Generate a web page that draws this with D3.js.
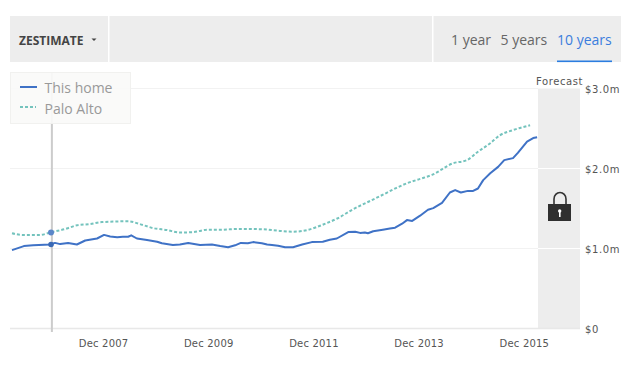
<!DOCTYPE html>
<html><head><meta charset="utf-8">
<script src="https://cdnjs.cloudflare.com/ajax/libs/d3/7.8.5/d3.min.js"></script>
<style>html,body{margin:0;padding:0;background:#fff;overflow:hidden}svg{display:block}</style>
</head><body><svg id="c" width="640" height="375"></svg>
<script>
// Months counted from March 2006; values in $ millions
const homeMonths=[0,2.7,4.8,8.7,9.8,11,12.8,14.8,16.7,19.4,21,22.4,24,25.3,26.5,27.2,28.5,30.8,33.1,34.2,36.7,38.3,40.2,42.9,45.6,47.5,49.3,50.9,52.2,53.8,55,57,58.2,59.3,60.7,62.3,64.1,66.2,68.4,70.9,72.5,74.1,76.7,78.3,79.4,80.5,81.2,82.4,84.6,86.2,87.4,89,90.1,91.3,93.1,94.9,96.1,98.1,99.9,101.1,102.4,104,105.2,106.3,107.5,109.1,110.9,112.3,114.3,115.4,117.5,118.9,119.8];
const homeValues=[0.98,1.03,1.04,1.05,1.07,1.055,1.07,1.05,1.10,1.125,1.17,1.15,1.14,1.147,1.147,1.165,1.125,1.105,1.085,1.065,1.045,1.05,1.07,1.045,1.05,1.03,1.015,1.04,1.07,1.065,1.08,1.065,1.05,1.045,1.035,1.015,1.015,1.05,1.08,1.085,1.11,1.125,1.205,1.21,1.195,1.2,1.19,1.215,1.235,1.25,1.26,1.31,1.355,1.345,1.41,1.485,1.505,1.57,1.70,1.73,1.70,1.72,1.72,1.75,1.855,1.94,2.02,2.105,2.13,2.195,2.335,2.38,2.39];
const areaMonths=[0,2.5,6.4,8.7,12.5,14.8,17.8,20.5,26.5,29.2,32.2,35.4,38.3,41.3,44.7,47.5,52,57.3,61.1,64.1,67.3,71,74.2,77.8,82.1,84.9,87.6,90.3,93.1,95.8,100.6,103.8,106.3,109.1,111.3,114.3,118.2];
const areaValues=[1.19,1.17,1.17,1.20,1.25,1.29,1.305,1.33,1.34,1.305,1.255,1.23,1.20,1.205,1.235,1.235,1.245,1.24,1.22,1.21,1.23,1.30,1.375,1.49,1.605,1.68,1.755,1.82,1.87,1.92,2.065,2.105,2.21,2.315,2.415,2.48,2.54];
const tickMonths=[21,45,69,93,117];
const tickLabels=["Dec 2007","Dec 2009","Dec 2011","Dec 2013","Dec 2015"];
const yTicks=[0,1,2,3];
const yLabels=["$0","$1.0m","$2.0m","$3.0m"];
const seriesNames=["This home","Palo Alto"];
const rangeNames=["1 year","5 years","10 years"];
const hoverLineMonth=9.1, hoverMonth=8.9, hoverHome=1.05, hoverArea=1.20;

const svg=d3.select("#c");
const x=d3.scaleLinear().domain([0,120]).range([12,538]);
const y=d3.scaleLinear().domain([0,3]).range([328.5,88.5]);
const OS="'Open Sans',sans-serif", DJ="'DejaVu Sans',sans-serif";
const BLUE="#3f72c6", TEAL="#74c3bd";

// header
svg.append("rect").attr("x",10).attr("y",16).attr("width",611).attr("height",46).attr("fill","#ededed");
[108,432].forEach(p=>svg.append("rect").attr("x",p).attr("y",16).attr("width",1.5).attr("height",46).attr("fill","#fff"));
svg.append("text").attr("x",19).attr("y",45).attr("font-family",OS).attr("font-weight",700).attr("font-size",12).attr("fill","#444").text("ZESTIMATE");
svg.append("path").attr("d","M91.5 38.5h5l-2.5 2.5z").attr("fill","#444");
[[451,"#666"],[500.5,"#666"],[557,"#3b7ddd"]].forEach((d,i)=>svg.append("text").attr("x",d[0]).attr("y",45).attr("font-family",OS).attr("font-size",14).attr("fill",d[1]).text(rangeNames[i]));
svg.append("rect").attr("x",557).attr("y",60.5).attr("width",55).attr("height",1.6).attr("fill","#2b7de0");

// forecast band
svg.append("rect").attr("x",538).attr("y",y(3)).attr("width",42).attr("height",y(0)-y(3)).attr("fill","#ededed");
svg.append("text").attr("x",536).attr("y",85).attr("font-family",DJ).attr("font-size",10).attr("letter-spacing",0.6).attr("fill","#555").text("Forecast");

// grid
svg.append("g").selectAll("line").data(yTicks.slice(1)).join("line")
 .attr("x1",10).attr("x2",538).attr("y1",d=>y(d)).attr("y2",d=>y(d)).attr("stroke","#f2f2f2");
svg.append("g").selectAll("line").data(yTicks.slice(1,3)).join("line")
 .attr("x1",538).attr("x2",580).attr("y1",d=>y(d)).attr("y2",d=>y(d)).attr("stroke","#fff");
svg.append("line").attr("x1",10).attr("x2",580).attr("y1",y(0)).attr("y2",y(0)).attr("stroke","#e8e8e8").attr("stroke-width",1.6);

// hover line
svg.append("line").attr("x1",x(hoverLineMonth)).attr("x2",x(hoverLineMonth)).attr("y1",72).attr("y2",332).attr("stroke","#ccc").attr("stroke-width",2);

// axis labels
svg.append("g").selectAll("text").data(tickMonths).join("text")
 .attr("x",d=>x(d)-0.5).attr("y",347).attr("text-anchor","middle").attr("font-family",DJ).attr("font-size",10).attr("letter-spacing",0.2).attr("fill","#555").text((d,i)=>tickLabels[i]);
svg.append("g").selectAll("text").data(yTicks).join("text")
 .attr("x",585).attr("y",d=>y(d)+4).attr("font-family",DJ).attr("font-size",10).attr("letter-spacing",0.6).attr("fill","#555").text((d,i)=>yLabels[i]);

// lines
const line=d3.line().x(d=>x(d[0])).y(d=>y(d[1]));
svg.append("path").attr("d",line.curve(d3.curveMonotoneX)(d3.zip(areaMonths,areaValues))).attr("fill","none").attr("stroke",TEAL).attr("stroke-width",2).attr("stroke-dasharray","3,2");
svg.append("path").attr("d",line.curve(d3.curveLinear)(d3.zip(homeMonths,homeValues))).attr("fill","none").attr("stroke",BLUE).attr("stroke-width",2).attr("stroke-linejoin","round");
svg.append("circle").attr("cx",x(hoverMonth)).attr("cy",y(hoverArea)).attr("r",3).attr("fill","#5b86c9");
svg.append("circle").attr("cx",x(hoverMonth)).attr("cy",y(hoverHome)).attr("r",2.8).attr("fill","#3a69b5");

// legend
svg.append("rect").attr("x",10.5).attr("y",72.5).attr("width",120).attr("height",51).attr("fill","#fafaf8").attr("fill-opacity",0.92).attr("stroke","#f1f1ef");
svg.append("line").attr("x1",20).attr("x2",37).attr("y1",87).attr("y2",87).attr("stroke",BLUE).attr("stroke-width",2);
svg.append("line").attr("x1",20).attr("x2",36).attr("y1",107).attr("y2",107).attr("stroke",TEAL).attr("stroke-width",2).attr("stroke-dasharray","3,2");
seriesNames.forEach((n,i)=>svg.append("text").attr("x",44.5).attr("y",93+i*21).attr("font-family",OS).attr("font-size",14).attr("fill","#999").text(n));

// lock icon
svg.append("path").attr("d","M554 205v-6a6 6.5 0 0 1 12 0v6").attr("fill","none").attr("stroke","#333").attr("stroke-width",1.6);
svg.append("rect").attr("x",548).attr("y",204).attr("width",23).attr("height",17).attr("fill","#2f2f2f");
svg.append("circle").attr("cx",559.7).attr("cy",211).attr("r",1.7).attr("fill","#fff");
svg.append("rect").attr("x",559).attr("y",211).attr("width",1.6).attr("height",6).attr("fill","#fff");
</script></body></html>
